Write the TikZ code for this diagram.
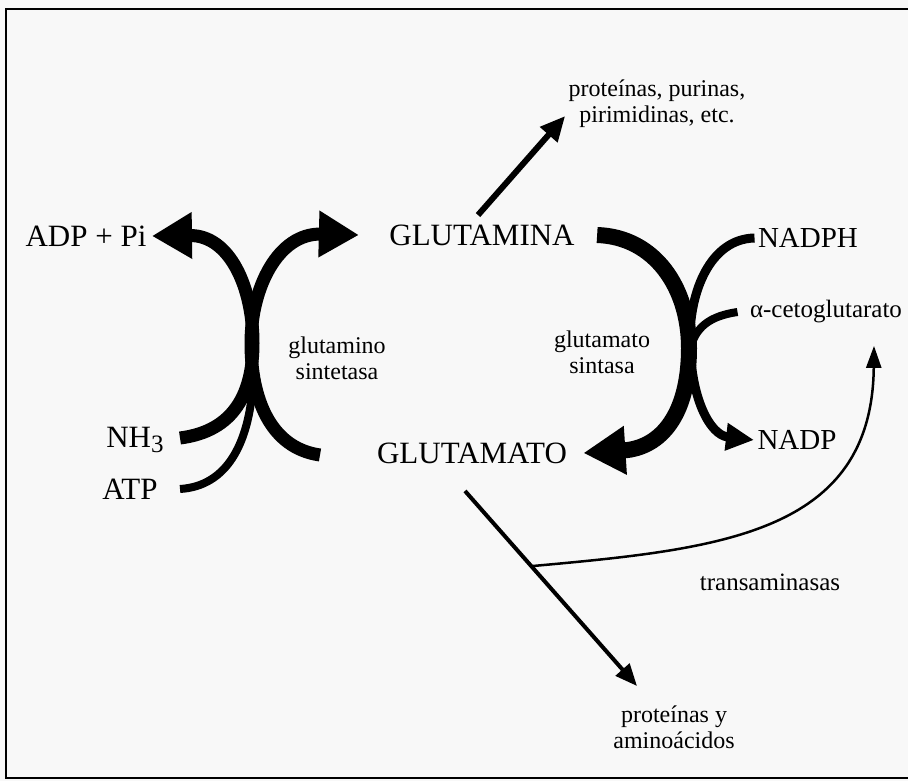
\documentclass[tikz,border=0pt]{standalone}
\usepackage{fontspec}
\setmainfont{Liberation Serif}
\usetikzlibrary{arrows.meta}
\definecolor{bgwhite}{RGB}{248,248,248}
\tikzset{
  big/.style={font=\fontsize{31}{33}\selectfont},
  mid/.style={font=\fontsize{29}{31}\selectfont},
  small/.style={font=\fontsize{24}{26}\selectfont, align=center},
  fatarrow/.style={line width=13pt, -{Triangle[length=40pt,width=44pt]}},
  thinarrow/.style={line width=4pt, -{Triangle[length=22pt,width=18pt]}}
}

\begin{document}
\begin{tikzpicture}[x=1pt,y=-1pt]

% Background
\fill[bgwhite] (0,0) rectangle (908,781);
\useasboundingbox (0,0) rectangle (908,781);

% Frame
\draw[line width=2pt] (908,9) -- (6,9) -- (6,778) -- (908,778);

% Labels
\node[big] (adp) at (86,236) {ADP + Pi};
\node[big] (nh3) at (135,440) {NH\raisebox{-0.3ex}{\fontsize{25}{25}\selectfont 3}};
\node[big] (atp) at (130,489) {ATP};
\node[small] (gsin) at (337,358) {glutamino\\sintetasa};
\node[big] (gln) at (482,235) {GLUTAMINA};
\node[big] (glu) at (472,453) {GLUTAMATO};
\node[small] (ppp) at (657,104) {proteínas, purinas,\\pirimidinas, etc.};
\node[mid] (nadph) at (808,238) {NADPH};
\node[small, font=\fontsize{25}{26}\selectfont] (akg) at (826,312) {α-cetoglutarato};
\node[mid] (nadp) at (797,440) {NADP};
\node[small] (gsa) at (602,352) {glutamato\\sintasa};
\node[small, font=\fontsize{25}{26}\selectfont] (trans) at (770,582) {transaminasas};
\node[small] (prot) at (674,727) {proteínas y\\aminoácidos};

% Curve ends
\coordinate (nh3end) at (180,438);
\coordinate (atpend) at (180,489);
\coordinate (gluend) at (320,455);
\coordinate (tjoin) at (533,566);

% glutamino sintetasa
\draw[fatarrow] (nh3end) .. controls (235,431) and (253,392) .. (253,343)
  .. controls (253,288) and (230,235) .. ([xshift=2pt]adp.east);
\draw[fatarrow] (gluend) .. controls (270,448) and (251,398) .. (251,343)
  .. controls (251,288) and (278,233) .. ([xshift=-27pt]gln.west);
\draw[line width=8pt] (atpend) .. controls (228,486) and (247,442) .. (252,394);

% glutamato sintasa
\draw[line width=16pt, -{Triangle[length=42pt,width=46pt]}] ([xshift=19pt]gln.east)
  .. controls (655,237) and (689,288) .. (689,348)
  .. controls (689,413) and (662,448) .. ([xshift=13pt]glu.east);
\draw[line width=9pt, -{Triangle[length=28pt,width=26pt]}] (nadph.west)
  .. controls (710,239) and (690,292) .. (690,338)
  .. controls (690,398) and (710,435) .. (nadp.west);
\draw[line width=8pt] ([xshift=-9pt]akg.west) .. controls (710,316) and (695,327) .. (690,350);

% Products
\draw[line width=6pt, -{Triangle[length=25pt,width=22pt]}] ([xshift=-4pt,yshift=6pt]gln.north)
  -- ([yshift=-12pt]ppp.west);
\draw[thinarrow] ([xshift=-7pt,yshift=-24pt]glu.south) -- ([xshift=-37pt,yshift=16pt]prot.north);
\draw[line width=2.5pt, -{Triangle[length=22pt,width=15pt]}] (tjoin)
  .. controls (720,549) and (872,534) .. ([xshift=48pt,yshift=-19pt]akg.south);

\end{tikzpicture}
\end{document}
